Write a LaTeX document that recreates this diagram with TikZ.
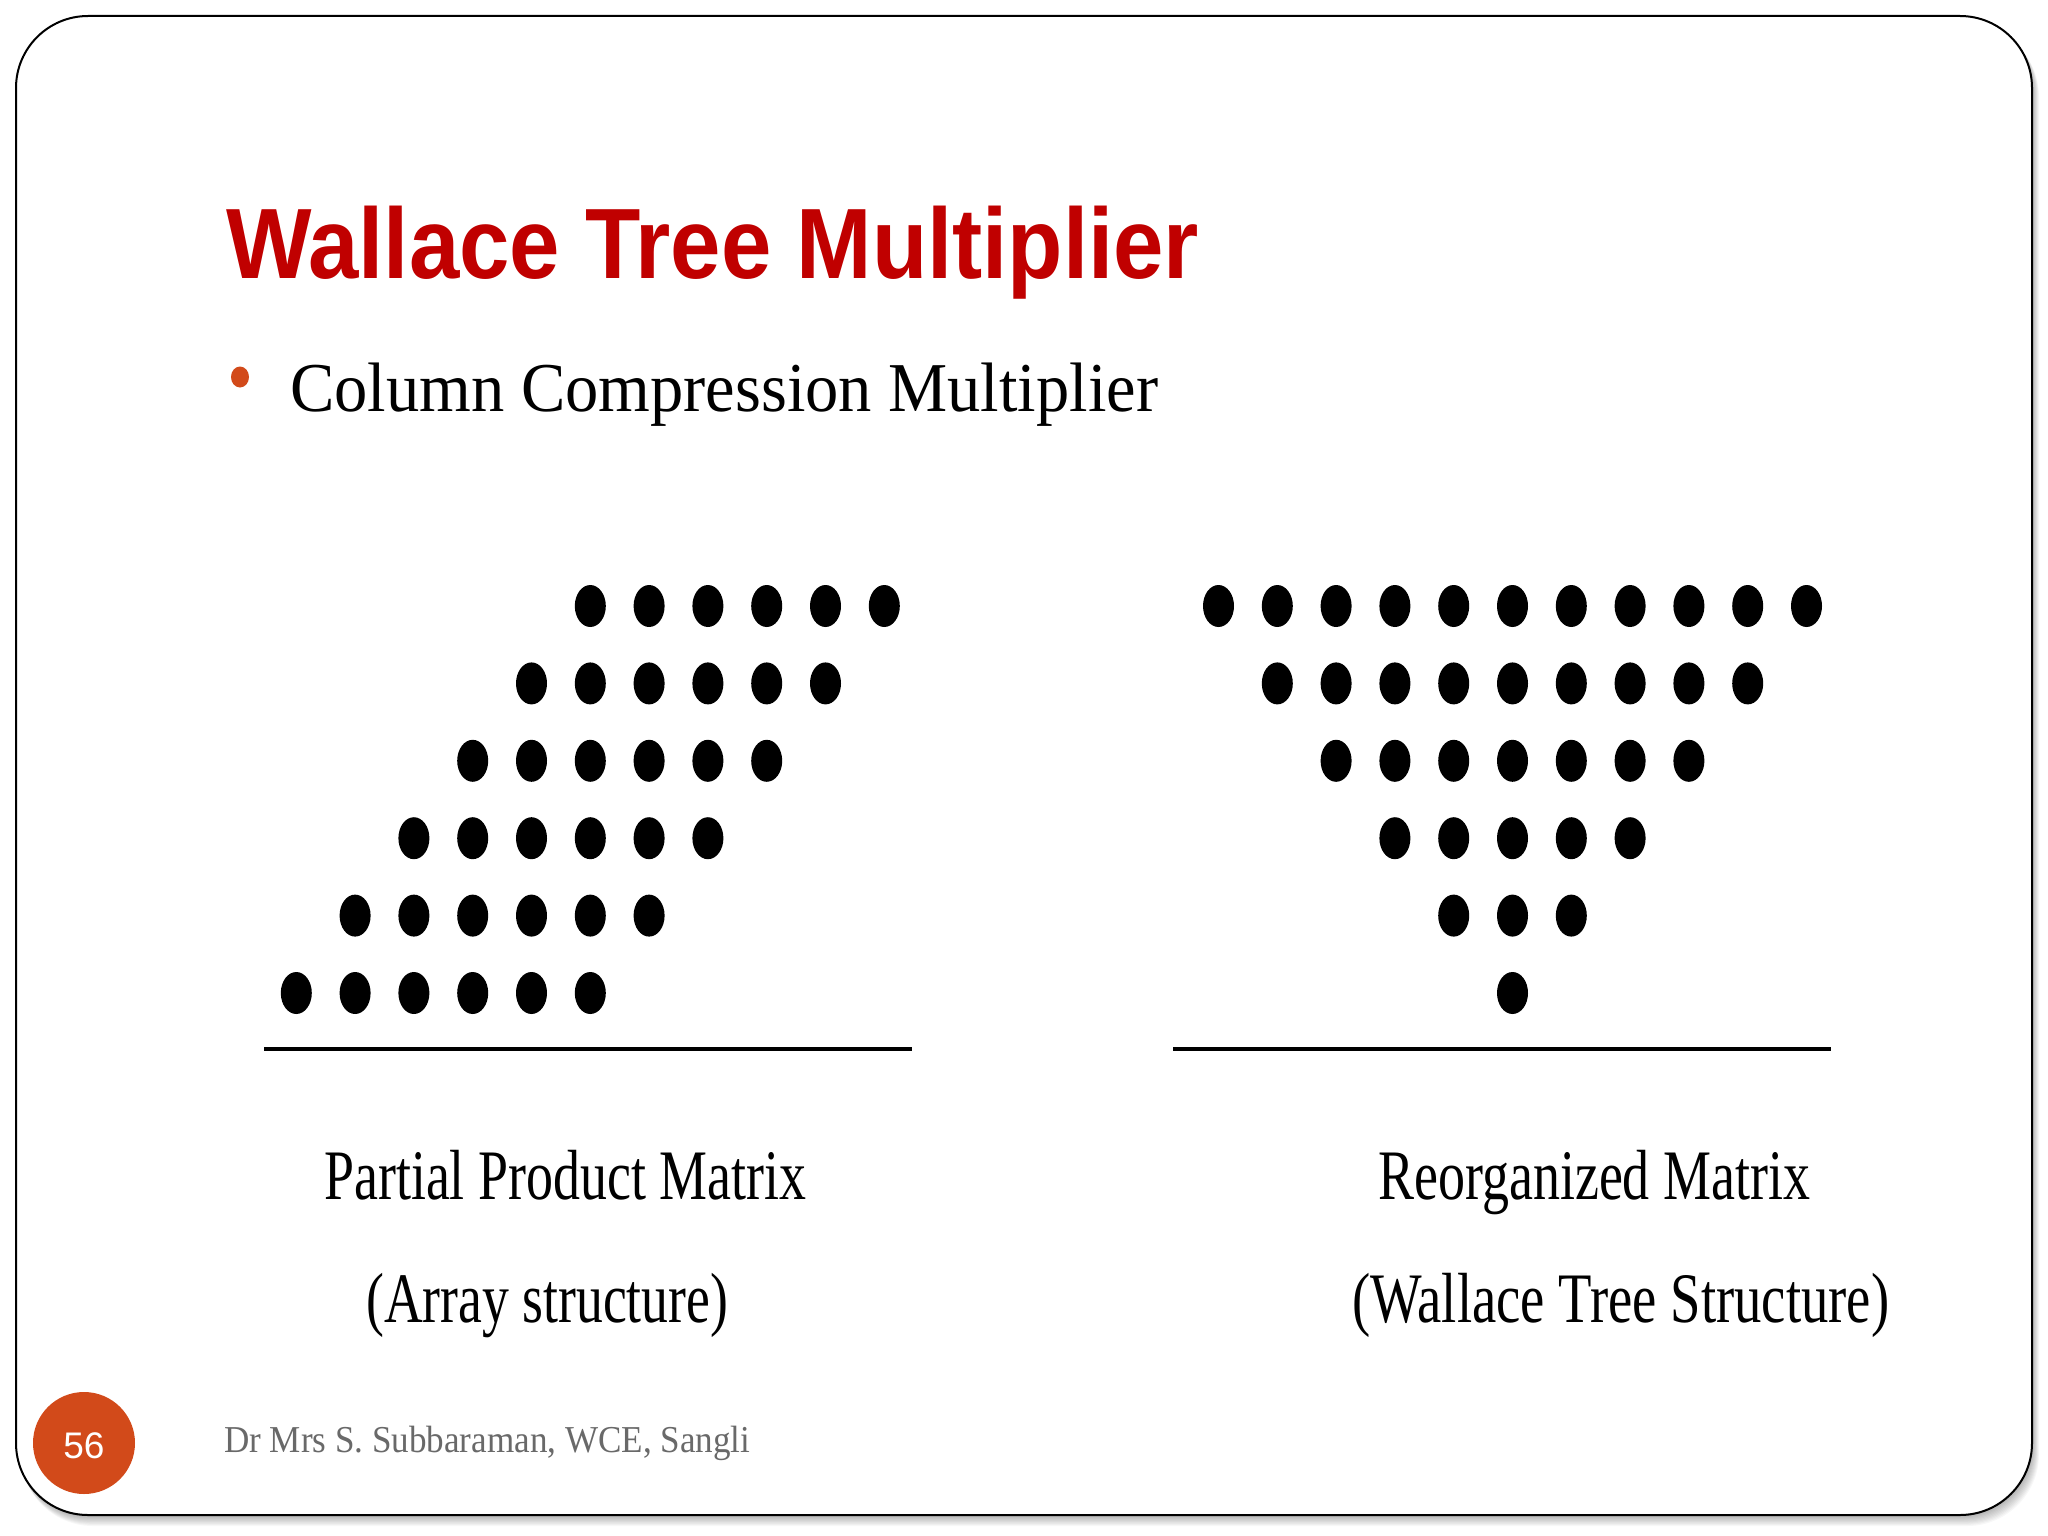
\documentclass[tikz,border=0pt]{standalone}
\usepackage{fontspec}
\usepackage{graphicx}
\setmainfont{Liberation Serif}
\newfontfamily\sansf{Liberation Sans}
\definecolor{titlered}{RGB}{192,0,0}
\definecolor{accent}{RGB}{210,74,26}
\definecolor{footgray}{RGB}{105,105,105}
\begin{document}
\begin{tikzpicture}[x=1pt,y=-1pt,
  txt/.style={inner sep=0pt, anchor=base west},
  dotshape/.style={fill=black},
  baseline/.style={line width=4.5pt, black}]
\useasboundingbox (0,0) rectangle (2048,1536);
\fill[white] (0,0) rectangle (2048,1536);
% shadow
\foreach \i in {1,...,10}{
  \fill[black,opacity=0.03,rounded corners=72pt] (16+\i*0.5,16+\i*0.9) rectangle (2032+\i*0.7,1515+\i*1.1);
}
% slide
\draw[line width=2pt, fill=white, rounded corners=72pt] (16,16) rectangle (2032,1515);
% title
\node[txt, text=titlered] (title) at (226,278)
  {\resizebox{973pt}{\height}{\fontsize{100}{110}\sansf\bfseries Wallace Tree Multiplier}};
% bullet
\fill[accent] (240,377) ellipse [x radius=9pt, y radius=10.5pt];
\node[txt] (sub) at (290,411)
  {\resizebox{868pt}{\height}{\fontsize{70}{80}\selectfont Column Compression Multiplier}};
% left dots
\foreach \r in {0,...,5}{
  \foreach \c in {0,...,5}{
    \fill[dotshape] (590.3-\r*58.8+\c*58.8, 606+\r*77.4) ellipse [x radius=15.5pt, y radius=21pt];
  }
}
% right dots
\foreach \r in {0,...,5}{
  \pgfmathtruncatemacro{\n}{10-2*\r}
  \foreach \c in {0,...,\n}{
    \fill[dotshape] (1218.5+\r*58.8+\c*58.8, 606+\r*77.4) ellipse [x radius=15.5pt, y radius=21pt];
  }
}
% rules
\coordinate (la) at (264,1049);
\coordinate (lb) at (912,1049);
\coordinate (ra) at (1173,1049);
\coordinate (rb) at (1831,1049);
\draw[baseline] (la) -- (lb);
\draw[baseline] (ra) -- (rb);
% labels
\node[txt] (ppm) at (324,1199)
  {\resizebox{482pt}{\height}{\fontsize{71}{80}\selectfont Partial Product Matrix}};
\node[txt] (arr) at (366,1322)
  {\resizebox{362pt}{\height}{\fontsize{71}{80}\selectfont (Array structure)}};
\node[txt] (reo) at (1378,1199)
  {\resizebox{432pt}{\height}{\fontsize{71}{80}\selectfont Reorganized Matrix}};
\node[txt] (wts) at (1352,1322)
  {\resizebox{537pt}{\height}{\fontsize{71}{80}\selectfont (Wallace Tree Structure)}};
% footer
\node[circle, fill=accent, minimum size=102pt, inner sep=0pt] (pg) at (84,1443) {};
\node[txt, anchor=base, text=white] (pgn) at (84,1458) {\fontsize{37}{40}\sansf 56};
\node[txt, text=footgray] (foot) at (224,1452)
  {\resizebox{526pt}{\height}{\fontsize{38}{44}\selectfont Dr Mrs S. Subbaraman, WCE, Sangli}};
\end{tikzpicture}
\end{document}
